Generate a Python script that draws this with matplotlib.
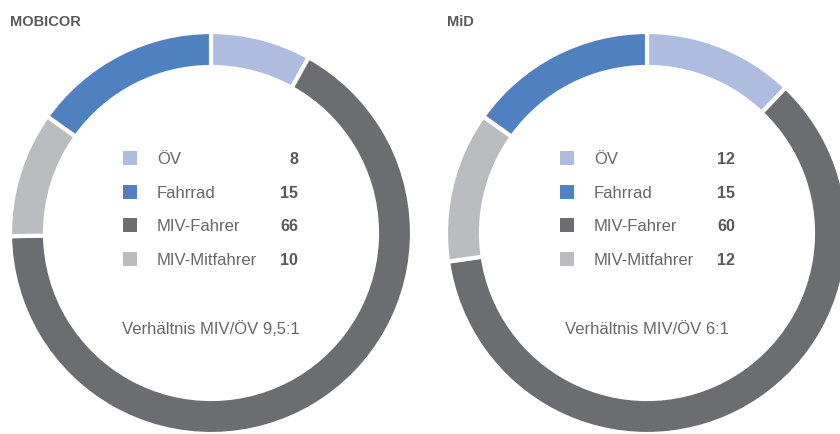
import matplotlib
matplotlib.use('Agg')
import matplotlib.pyplot as plt

plt.rcParams['font.family'] = ['Liberation Sans', 'DejaVu Sans']

categories = ['ÖV', 'Fahrrad', 'MIV-Fahrer', 'MIV-Mitfahrer']
mobicor = [8, 15, 66, 10]
mid = [12, 15, 60, 12]
titles = ['MOBICOR', 'MiD']
ratios = ['Verhältnis MIV/ÖV 9,5:1', 'Verhältnis MIV/ÖV 6:1']
colors = ['#aebce0', '#4f81c1', '#6c6d71', '#bbbcc0']

# clockwise order in the ring, starting at the top
ring_order = [0, 2, 3, 1]

text_col = '#58595b'
H = 434

fig = plt.figure(figsize=(8.4, 4.34), dpi=100)
ax = fig.add_axes([0, 0, 1, 1])

panels = [(mobicor, 211, 10, 123, 157, 298), (mid, 647, 447, 560, 594, 735)]
for i, (vals, cx, tx, sqx, lx, vx) in enumerate(panels):
    cy = H - 233
    ax.pie([vals[k] for k in ring_order], colors=[colors[k] for k in ring_order],
           startangle=90, counterclock=False, center=(cx, cy), radius=201,
           frame=True,
           wedgeprops=dict(width=35, edgecolor='white', linewidth=3))
    ax.text(tx, H - 22, titles[i], fontsize=10.5, fontweight='bold', color=text_col,
            ha='left', va='center')
    for j, (cat, v) in enumerate(zip(categories, vals)):
        y = H - (158 + j * 33.7)
        ax.add_patch(plt.Rectangle((sqx, y - 7), 14, 14, color=colors[j], lw=0))
        ax.text(lx, y - 1.5, cat, fontsize=12, color='#666769', ha='left', va='center')
        ax.text(vx, y - 1.5, str(v), fontsize=11.5, fontweight='bold', color=text_col,
                ha='right', va='center')
    ax.text(cx, H - 329, ratios[i], fontsize=12, color='#666769',
            ha='center', va='center')

ax.set_xlim(0, 840)
ax.set_ylim(0, H)
ax.set_aspect('equal')
ax.axis('off')

fig.savefig('out.png', dpi=100, facecolor='white')
